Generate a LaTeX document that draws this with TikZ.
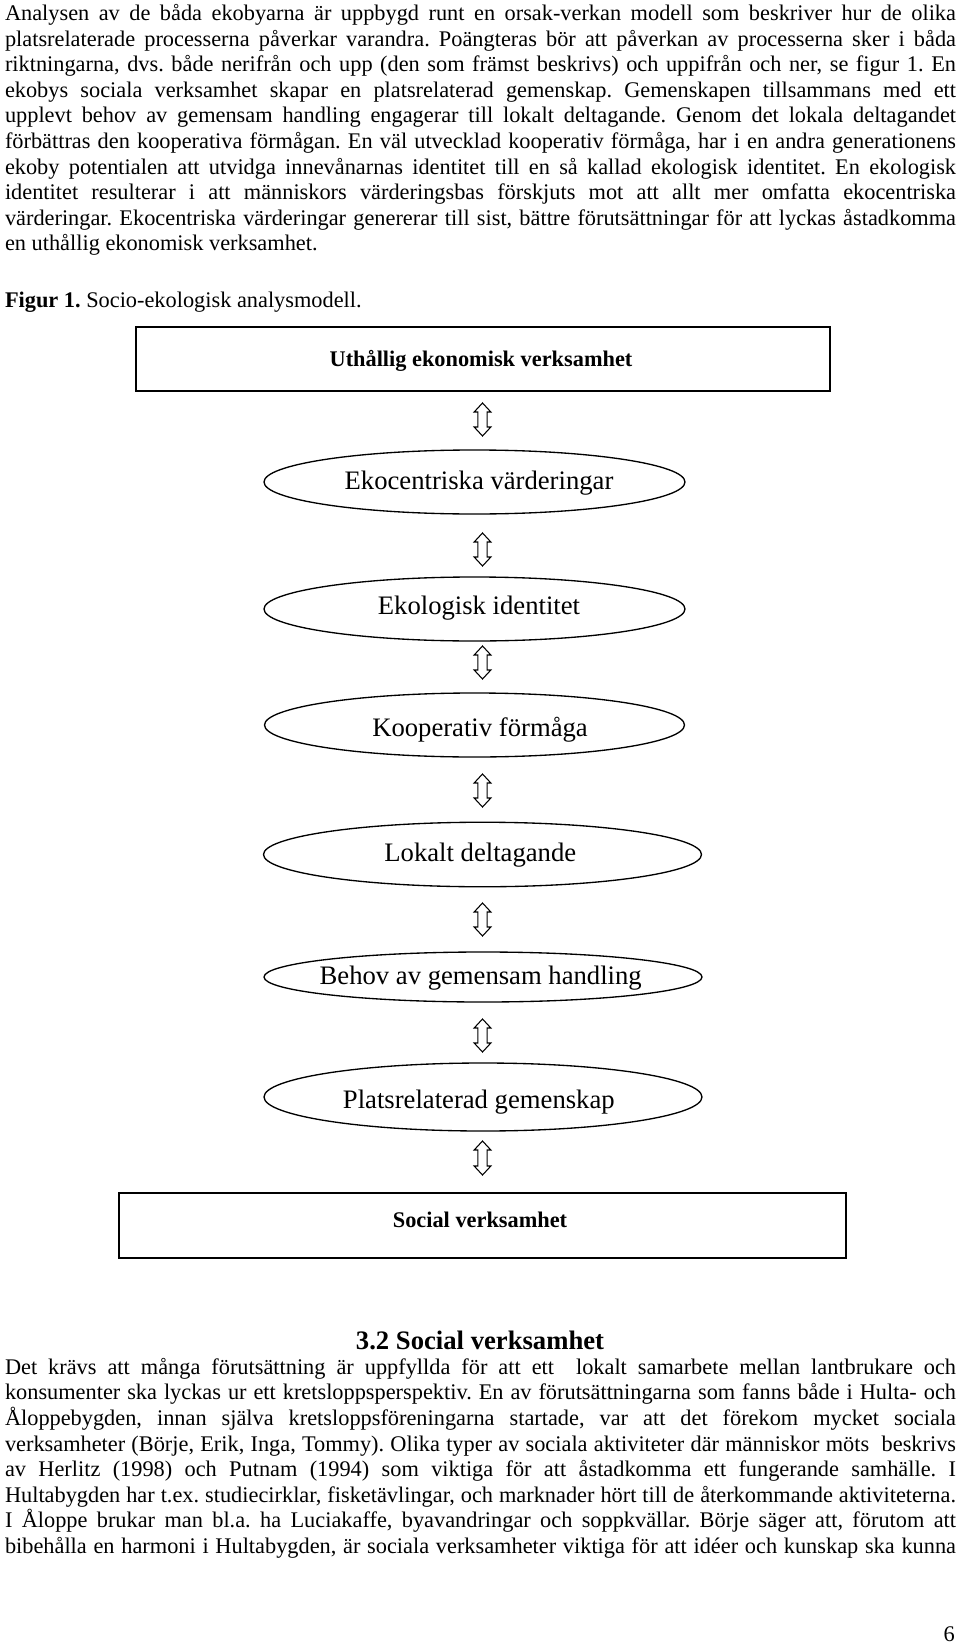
\documentclass[tikz,border=0pt]{standalone}
\usepackage{fontspec}
\setmainfont{Liberation Serif}
\usetikzlibrary{shapes.geometric}
\frenchspacing
\newcommand{\bodyfont}{\fontsize{16.75}{19.2}\selectfont}
\newcommand{\ellfont}{\fontsize{20}{24}\selectfont}
\newcommand{\headfont}{\fontsize{20}{24}\selectfont\bfseries}
\newcommand{\jl}[3]{\node[txtline] (#1) at (5,#2) {\makebox[713.25pt][s]{#3}};}
\newcommand{\fl}[3]{\node[txtline] (#1) at (5,#2) {#3};}
\newcommand{\udarrow}[3]{%
  \draw[dblarrow] (482.5,#2) coordinate (#1) -- (490.85,#2+9) -- (487.15,#2+9)
    -- (487.15,#3-9) -- (490.85,#3-9) -- (482.5,#3) -- (474.15,#3-9)
    -- (477.85,#3-9) -- (477.85,#2+9) -- (474.15,#2+9) -- cycle;}
\tikzset{
  txtline/.style={anchor=base west, inner sep=0pt, outer sep=0pt, font=\bodyfont},
  boxnode/.style={draw, line width=1.15pt, inner sep=0pt},
  ell/.style={draw, ellipse, line width=1pt, inner sep=0pt},
  lbl/.style={anchor=base, inner sep=0pt, font=\ellfont},
  boxlbl/.style={anchor=base, inner sep=0pt, font=\bodyfont\bfseries},
  dblarrow/.style={draw, line width=0.8pt, line join=miter},
}
\begin{document}
\begin{tikzpicture}[x=0.75pt, y=-0.75pt]
\useasboundingbox (0,0) rectangle (960,1644);
\fill[white] (0,0) rectangle (960,1644);

% paragraph 1
\jl{p1}{20.7}{Analysen av de båda ekobyarna är uppbygd runt en orsak-verkan modell som beskriver hur de olika}
\jl{p2}{46.3}{platsrelaterade processerna påverkar varandra. Poängteras bör att påverkan av processerna sker i båda}
\jl{p3}{71.8}{riktningarna, dvs. både nerifrån och upp (den som främst beskrivs) och uppifrån och ner, se figur 1. En}
\jl{p4}{97.4}{ekobys sociala verksamhet skapar en platsrelaterad gemenskap. Gemenskapen tillsammans med ett}
\jl{p5}{122.9}{upplevt behov av gemensam handling engagerar till lokalt deltagande. Genom det lokala deltagandet}
\jl{p6}{148.5}{förbättras den kooperativa förmågan. En väl utvecklad kooperativ förmåga, har i en andra generationens}
\jl{p7}{174.1}{ekoby potentialen att utvidga innevånarnas identitet till en så kallad ekologisk identitet. En ekologisk}
\jl{p8}{199.6}{identitet resulterar i att människors värderingsbas förskjuts mot att allt mer omfatta ekocentriska}
\jl{p9}{225.2}{värderingar. Ekocentriska värderingar genererar till sist, bättre förutsättningar för att lyckas åstadkomma}
\fl{p10}{250.7}{en uthållig ekonomisk verksamhet.}

\fl{fig}{308}{\textbf{Figur 1.} Socio-ekologisk analysmodell.}

% diagram
\node[boxnode, minimum width=520.5pt, minimum height=48pt] (b1) at (483,359) {};
\node[boxlbl] (b1t) at (481,366) {Uthållig ekonomisk verksamhet};

\udarrow{a1}{403}{436}

\node[ell, minimum width=315.75pt, minimum height=48pt] (e1) at (474.5,482) {};
\node[lbl] (e1t) at (479,489) {Ekocentriska värderingar};

\udarrow{a2}{533}{566}

\node[ell, minimum width=315.75pt, minimum height=48pt] (e2) at (474.5,609) {};
\node[lbl] (e2t) at (479,614) {Ekologisk identitet};

\udarrow{a3}{646}{679}

\node[ell, minimum width=315pt, minimum height=48pt] (e3) at (474.5,725) {};
\node[lbl] (e3t) at (480,736.5) {Kooperativ förmåga};

\udarrow{a4}{774}{807}

\node[ell, minimum width=328.5pt, minimum height=48.4pt] (e4) at (482.5,854.5) {};
\node[lbl] (e4t) at (480.3,861) {Lokalt deltagande};

\udarrow{a5}{903}{936}

\node[ell, minimum width=328.5pt, minimum height=37.5pt] (e5) at (483,977) {};
\node[lbl] (e5t) at (480.7,984) {Behov av gemensam handling};

\udarrow{a6}{1019}{1052}

\node[ell, minimum width=328.5pt, minimum height=51pt] (e6) at (483,1097) {};
\node[lbl] (e6t) at (478.8,1108) {Platsrelaterad gemenskap};

\udarrow{a7}{1141}{1175}

\node[boxnode, minimum width=545.25pt, minimum height=48.75pt] (b2) at (482.5,1225.5) {};
\node[boxlbl] (b2t) at (480,1227) {Social verksamhet};

% heading
\node[anchor=base, inner sep=0pt, font=\headfont] (h32) at (480,1349) {3.2 Social verksamhet};

% paragraph 2
\jl{q1}{1374.3}{Det krävs att många förutsättning är uppfyllda för att ett\ \ lokalt samarbete mellan lantbrukare och}
\jl{q2}{1399.9}{konsumenter ska lyckas ur ett kretsloppsperspektiv. En av förutsättningarna som fanns både i Hulta- och}
\jl{q3}{1425.5}{Åloppebygden, innan själva kretsloppsföreningarna startade, var att det förekom mycket sociala}
\jl{q4}{1451.1}{verksamheter (Börje, Erik, Inga, Tommy). Olika typer av sociala aktiviteter där människor möts\ \ beskrivs}
\jl{q5}{1476.7}{av Herlitz (1998) och Putnam (1994) som viktiga för att åstadkomma ett fungerande samhälle. I}
\jl{q6}{1502.3}{Hultabygden har t.ex. studiecirklar, fisketävlingar, och marknader hört till de återkommande aktiviteterna.}
\jl{q7}{1527.9}{I Åloppe brukar man bl.a. ha Luciakaffe, byavandringar och soppkvällar. Börje säger att, förutom att}
\jl{q8}{1553.5}{bibehålla en harmoni i Hultabygden, är sociala verksamheter viktiga för att idéer och kunskap ska kunna}

\node[anchor=base east, inner sep=0pt, font=\bodyfont] (pg) at (955,1641) {6};
\end{tikzpicture}
\end{document}
